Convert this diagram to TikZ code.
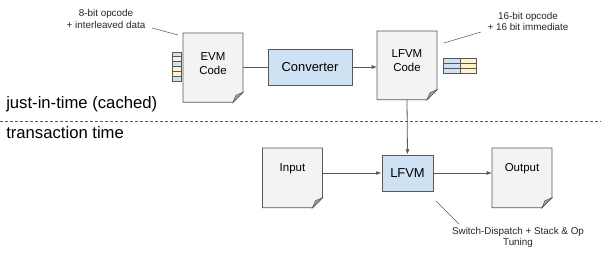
\documentclass[tikz,border=0pt]{standalone}
\usepackage{fontspec}
\setmainfont{Liberation Sans}
\usetikzlibrary{arrows.meta,calc,backgrounds}
\definecolor{docfill}{HTML}{F3F3F3}
\definecolor{edge}{HTML}{595959}
\definecolor{foldgray}{HTML}{A6A6A6}
\definecolor{opblue}{HTML}{CFE2F3}
\definecolor{opyellow}{HTML}{FFF2CC}

\begin{document}
\begin{tikzpicture}[
  x=0.75pt, y=-0.75pt,
  doc/.style={minimum width=44.5pt, minimum height=57.75pt, inner sep=0pt, align=center, font=\fontsize{8.6}{10.5}\selectfont},
  box/.style={draw=edge, fill=opblue, line width=0.6pt, minimum height=27pt, inner sep=0pt, font=\fontsize{9.7}{12}\selectfont},
  note/.style={align=center, inner sep=0pt, text=black!85, font=\fontsize{7.4}{8.3}\selectfont},
  phase/.style={anchor=west, inner sep=0pt, font=\fontsize{12.5}{15}\selectfont},
  lnk/.style={draw=edge, line width=0.6pt},
  arr/.style={lnk, -{Latex[length=4pt,width=3pt]}},
  cell/.style={draw=edge, line width=0.6pt},
]
\useasboundingbox (0,0) rectangle (601,256);

\node[doc] (evm) at (213,63.5) {EVM\\Code};
\node[box, minimum width=63pt] (conv) at (310,67) {Converter};
\node[doc] (lfvmcode) at (407,61) {LFVM\\Code};
\node[doc] (input) at (292.5,169) {Input};
\node[box, minimum width=38.25pt] (lfvm) at (407.5,173) {LFVM};
\node[doc] (output) at (522,169) {Output};

% document outlines with folded corner
\begin{scope}[on background layer]
\foreach \d/\u in {evm/30.5, lfvmcode/30, input/21, output/21} {
  \coordinate (top) at ($(\d.center)+(0,-\u)$);
  \draw[lnk, fill=docfill] (top -| \d.west) -- (top -| \d.east)
    -- ([yshift=7.5pt]\d.south east) -- ([xshift=-7.5pt]\d.south east)
    -- (\d.south west) -- cycle;
  \draw[lnk, fill=foldgray, line width=0.4pt] ([xshift=-7.5pt]\d.south east)
    -- ([yshift=7.5pt]\d.south east) -- ([xshift=-5.25pt,yshift=5.25pt]\d.south east) -- cycle;
}
\end{scope}

\draw[lnk] (evm.east |- conv.west) -- (conv.west);
\draw[arr] (conv.east) -- (conv.east -| lfvmcode.west);
\draw[arr] (lfvmcode.south) -- (lfvm.north);
\draw[arr] (input.east |- lfvm.west) -- (lfvm.west);
\draw[arr] (lfvm.east) -- (lfvm.east -| output.west);

% instruction layouts
\foreach \c [count=\i] in {opblue,opyellow,opblue,opyellow,opyellow,opblue}
  \draw[cell, fill=\c] (172,{52+(\i-1)*4.9}) rectangle ++(9,4.9);
\foreach \r in {0,1,2} {
  \draw[cell, fill=opblue] (443,{58+\r*5}) rectangle ++(17,5);
  \draw[cell, fill=opyellow] (460,{58+\r*5}) rectangle ++(16,5);
}

% notes
\node[note] (evmnote) at (106,19) {8-bit opcode\\+ interleaved data};
\node[note] (codenote) at (528,21.5) {16-bit opcode\\+ 16 bit immediate};
\node[note] (vmnote) at (518,237.5) {Switch-Dispatch + Stack \& Op\\Tuning};
\coordinate (e1) at (152,28);  \coordinate (e2) at (178,35);
\coordinate (c1) at (481,32);  \coordinate (c2) at (444,43);
\coordinate (v1) at (436,201); \coordinate (v2) at (459,224);
\draw[lnk, line width=0.4pt] (e1) -- (e2);
\draw[lnk, line width=0.4pt] (c1) -- (c2);
\draw[lnk, line width=0.4pt] (v1) -- (v2);

% phases
\node[phase] (jit) at (6,104) {just-in-time (cached)};
\node[phase] (txn) at (6,133) {transaction time};
\coordinate (sl) at (0,121); \coordinate (sr) at (601,121);
\draw[lnk, line width=0.5pt, dash pattern=on 2.25pt off 1.5pt] (sl) -- (sr);
\end{tikzpicture}
\end{document}
